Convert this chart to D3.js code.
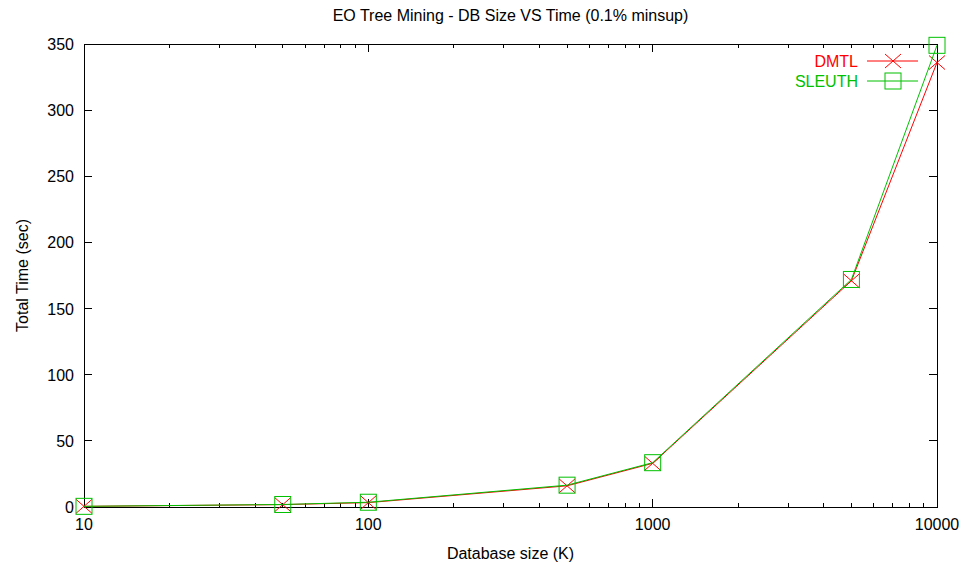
<!DOCTYPE html>
<html>
<head>
<meta charset="utf-8">
<script src="https://cdn.jsdelivr.net/npm/d3@7"></script>
<style>
  body { margin: 0; background: #fff; }
  text { font-family: "Liberation Sans", Arial, sans-serif; font-size: 16px; }
</style>
</head>
<body>
<svg width="965" height="567"></svg>
<script>
var sizes = [10, 50, 100, 500, 1000, 5000, 10000];
var dmtl = [0.5, 1.8, 3.3, 16, 33, 171, 336];
var sleuth = [0.5, 1.9, 3.6, 16.5, 33.5, 172, 349];
var xTickLabels = [10, 100, 1000, 10000];
var yTickValues = [0, 50, 100, 150, 200, 250, 300, 350];

var svg = d3.select("svg");
var L = 84, R = 937, T = 44, B = 507;

var x = d3.scaleLog().domain([10, 10000]).range([L, R]);
var y = d3.scaleLinear().domain([0, 350]).range([B, T]);

// minor ticks on the log axis
var minor = [];
[10, 100, 1000].forEach(function (d) {
  for (var k = 2; k <= 9; k++) minor.push(d * k);
});

var g = svg.append("g").attr("stroke", "#000").attr("stroke-width", 1).attr("shape-rendering", "crispEdges");

// y ticks, left and right, pointing inward
yTickValues.forEach(function (v) {
  g.append("line").attr("x1", L).attr("x2", L + 8).attr("y1", y(v)).attr("y2", y(v));
  g.append("line").attr("x1", R).attr("x2", R - 8).attr("y1", y(v)).attr("y2", y(v));
});
// x ticks, bottom and top
xTickLabels.forEach(function (v) {
  g.append("line").attr("x1", x(v)).attr("x2", x(v)).attr("y1", B).attr("y2", B - 8);
  g.append("line").attr("x1", x(v)).attr("x2", x(v)).attr("y1", T).attr("y2", T + 8);
});
minor.forEach(function (v) {
  g.append("line").attr("x1", x(v)).attr("x2", x(v)).attr("y1", B).attr("y2", B - 4);
  g.append("line").attr("x1", x(v)).attr("x2", x(v)).attr("y1", T).attr("y2", T + 4);
});
g.append("rect").attr("x", L).attr("y", T).attr("width", R - L).attr("height", B - T).attr("fill", "none");

// tick labels
svg.selectAll(".ylab").data(yTickValues).enter().append("text")
  .attr("x", L - 10).attr("y", function (d) { return y(d) + 6; })
  .attr("text-anchor", "end").text(function (d) { return d; });
svg.selectAll(".xlab").data(xTickLabels).enter().append("text")
  .attr("x", function (d) { return x(d); }).attr("y", B + 23)
  .attr("text-anchor", "middle").text(function (d) { return d; });

// titles
svg.append("text").attr("x", (L + R) / 2).attr("y", 21).attr("text-anchor", "middle")
  .text("EO Tree Mining - DB Size VS Time (0.1% minsup)");
svg.append("text").attr("x", (L + R) / 2).attr("y", 559).attr("text-anchor", "middle")
  .text("Database size (K)");
svg.append("text").attr("transform", "translate(28," + ((T + B) / 2) + ") rotate(-90)")
  .attr("text-anchor", "middle").text("Total Time (sec)");

var line = d3.line().x(function (d) { return x(d[0]); }).y(function (d) { return y(d[1]); });

function cross(sel, cx, cy, color) {
  var sx = 8, sy = 7;
  sel.append("path").attr("d", "M" + (cx - sx) + "," + (cy - sy) + "L" + (cx + sx) + "," + (cy + sy) +
    "M" + (cx - sx) + "," + (cy + sy) + "L" + (cx + sx) + "," + (cy - sy))
    .attr("stroke", color).attr("fill", "none");
}
function square(sel, cx, cy, color) {
  var s = 8;
  sel.append("rect").attr("x", cx - s).attr("y", cy - s).attr("width", 2 * s).attr("height", 2 * s)
    .attr("stroke", color).attr("fill", "none");
}

var series = [
  { name: "DMTL", vals: dmtl, color: "#ff0000", mark: cross },
  { name: "SLEUTH", vals: sleuth, color: "#00c000", mark: square }
];

series.forEach(function (s, i) {
  var pts = sizes.map(function (d, j) { return [d, s.vals[j]]; });
  svg.append("path").datum(pts).attr("d", line).attr("fill", "none")
    .attr("stroke", s.color).attr("stroke-width", 1);
  pts.forEach(function (p) { s.mark(svg, x(p[0]), y(p[1]), s.color); });

  var ly = 61 + i * 20;
  svg.append("text").attr("x", 858).attr("y", ly + 6).attr("text-anchor", "end")
    .attr("fill", s.color).text(s.name);
  svg.append("line").attr("x1", 867).attr("x2", 918).attr("y1", ly).attr("y2", ly)
    .attr("stroke", s.color);
  s.mark(svg, 893, ly, s.color);
});
</script>
</body>
</html>
